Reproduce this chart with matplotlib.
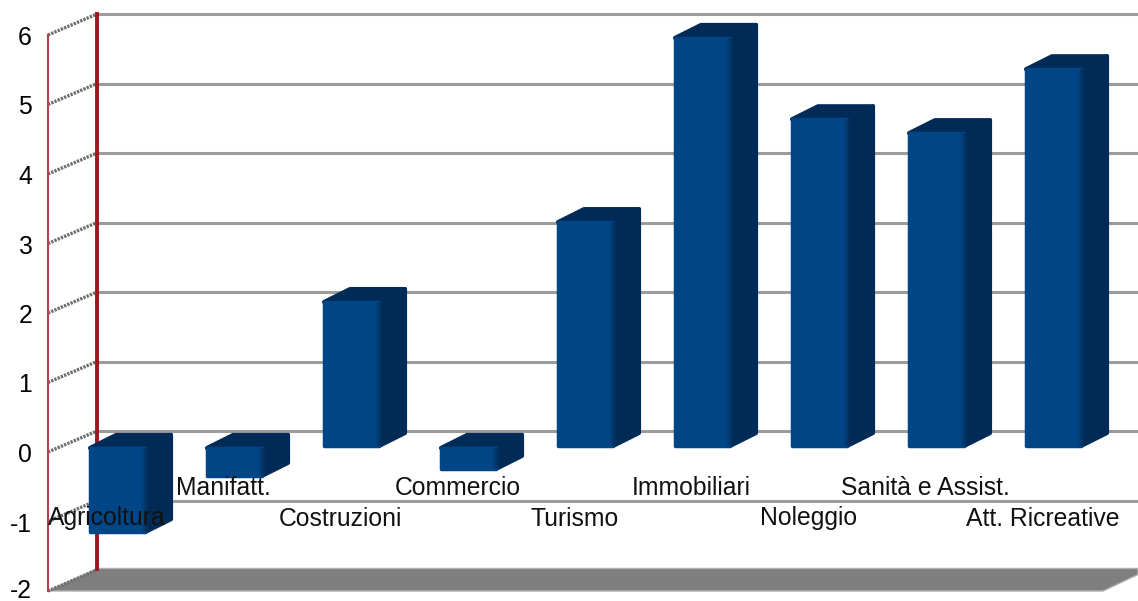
import matplotlib
matplotlib.use('Agg')
import matplotlib.pyplot as plt
from matplotlib.patches import Polygon

plt.rcParams['font.family'] = ['Liberation Sans', 'DejaVu Sans']

categories = ['Agricoltura', 'Manifatt.', 'Costruzioni', 'Commercio', 'Turismo',
              'Immobiliari', 'Noleggio', 'Sanità e Assist.', 'Att. Ricreative']
values = [-1.24, -0.43, 2.1, -0.33, 3.25, 5.9, 4.73, 4.53, 5.45]
ticks = [-2, -1, 0, 1, 2, 3, 4, 5, 6]

W, H = 1138, 601
PX = 117.0     # pixels per category
PY = 69.5      # pixels per unit
X0, Y0 = 117.5, 447.0   # pixel of category 0 / value 0

BLUE = '#004586'
DARK = '#002b57'
GRID = '#9c9c9c'
WALL = '#a3121e'
FS = 17.8

fig = plt.figure(figsize=(W / 100, H / 100), dpi=100)
ax = fig.add_axes([0, 0, 1, 1])
ax.set_xlim(-X0 / PX, (W - X0) / PX)
ax.set_ylim((Y0 - H) / PY, Y0 / PY)
ax.axis('off')

# wall / floor positions relative to the bar plane
front_x = (48 - X0) / PX
back_x = (97 - X0) / PX
front_dy = (Y0 - 452) / PY
back_dy = (Y0 - 431) / PY
right_x = (W - X0) / PX
bw = 55 / PX
dx = 26 / PX
dy = 13 / PY
ins = 1 / PY   # rounded corners come from the thick edge, so pull the shapes in

# floor
floor_f = min(ticks) + front_dy
floor_b = min(ticks) + back_dy + 1.5 / PY
ax.add_patch(Polygon([(front_x, floor_f), (back_x, floor_b), (right_x, floor_b),
                      (right_x, floor_b - 6 / PY), ((1103 - X0) / PX, floor_f)],
                     closed=True, fc='#7f7f7f', ec='#b0b0b0', lw=1, zorder=1))

# grid on both walls
for t in ticks:
    if t != min(ticks):
        ax.plot([back_x, right_x], [t + back_dy, t + back_dy], color=GRID, lw=2.2, zorder=1,
                solid_capstyle='butt')
    ax.plot([front_x, back_x], [t + front_dy, t + back_dy], color='#6e6e6e', lw=2.4,
            ls=(0, (0.7, 0.35)), zorder=1)
    # lowest label sits against the picture's edge, keep it inside
    nudge = 0 if t == min(ticks) else 3
    ax.text((32 - X0) / PX, t + front_dy - nudge / PY, str(t), ha='right', va='center',
            fontsize=FS, color='black', zorder=6)

ax.plot([front_x, front_x], [floor_f, 6 + front_dy], color='#b5434e', lw=1.5, zorder=2)
ax.plot([back_x, back_x], [floor_b, 6 + back_dy], color=WALL, lw=2.8, zorder=2)

# bars
for i, (name, v) in enumerate(zip(categories, values)):
    left = i - bw / 2
    right = i + bw / 2
    top = max(v, 0) - ins
    bot = min(v, 0) + ins
    z = 3 + i * 0.01
    ax.add_patch(Polygon([(right, bot), (right + dx, bot + dy), (right + dx, top + dy), (right, top)],
                         closed=True, fc=DARK, ec=DARK, lw=3, joinstyle='round', zorder=z))
    ax.add_patch(Polygon([(left, top), (left + dx, top + dy), (right + dx, top + dy), (right, top)],
                         closed=True, fc=DARK, ec=DARK, lw=3, joinstyle='round', zorder=z))
    ax.bar(i, top - bot, bottom=bot, width=bw, color=BLUE, edgecolor=BLUE, lw=2.5,
           joinstyle='round', zorder=z + 0.001)
    # soft edge between front and side
    for k, c in enumerate(['#023e79', '#03376b', '#02315f']):
        ax.bar(right - 3 / PX + k * 2 / PX, top - bot, bottom=bot, width=2 / PX, align='edge',
               color=c, zorder=z + 0.002)
    # category labels, staggered on two rows
    label_y = ((Y0 - 518.5) if i % 2 == 0 else (Y0 - 488)) / PY
    ax.text(i - 11 / PX, label_y, name, ha='center', va='center', fontsize=FS, color='#111111', zorder=6)

fig.savefig('out.png', dpi=100)
